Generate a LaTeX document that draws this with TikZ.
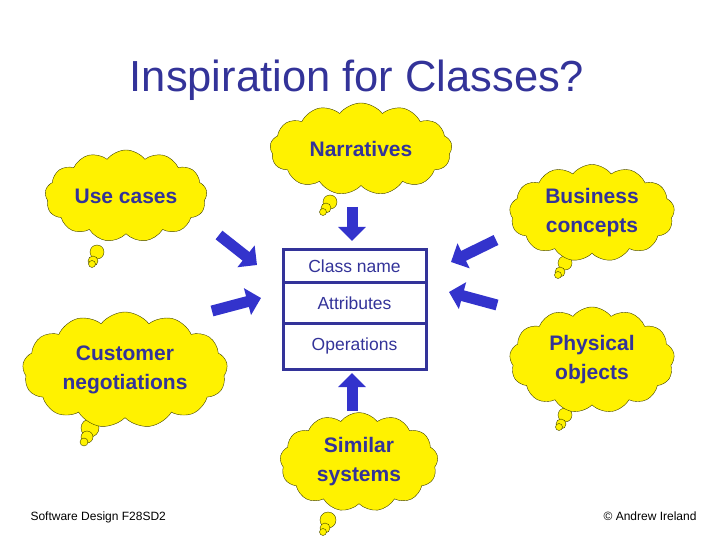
\documentclass[tikz,border=0pt]{standalone}
\usepackage{fontspec}
\setmainfont{Liberation Sans}
\usepackage{tikz}
\usetikzlibrary{shapes.symbols}
\usetikzlibrary{arrows.meta}
\usetikzlibrary{positioning}

\definecolor{inkblue}{RGB}{51,51,153}
\definecolor{arrowblue}{RGB}{51,51,204}
\definecolor{puffline}{RGB}{64,64,0}

\begin{document}
\begin{tikzpicture}[x=1pt,y=-1pt,
  thought/.style={cloud,cloud puffs=13,cloud puff arc=105,cloud ignores aspect,draw=puffline,fill=yellow,thin,inner sep=0pt,text=inkblue,align=center,font=\fontsize{21}{29}\selectfont\bfseries},
  bubble/.style={draw=puffline,fill=yellow,thin},
  bigarrow/.style={draw=arrowblue,line width=11pt,-{Triangle[width=27pt,length=14pt]}},
  part/.style={rectangle,draw=inkblue,line width=3pt,outer sep=0pt,minimum width=143pt,text=inkblue,font=\fontsize{17.5}{20}\selectfont}]

  \useasboundingbox (0,0) rectangle (720,540);

  \node[text=inkblue,font=\fontsize{43.5}{50}\selectfont,anchor=base] (title) at (357,92) {Inspiration for Classes?};

  % little bubbles under each cloud
  \foreach \x/\y/\r in {330/202/7, 326/208/5, 323/212/3.5,
                        97/252/7, 93/261/5, 92/264/3.5,
                        565/263/7, 560/272/5, 558/275/3.5,
                        90/428/9, 87/437/6, 84/442/4,
                        565/415/7, 561/424/5, 559/427/3.5,
                        328/520/8, 325/528/5, 323/532/3.5}
    \draw[bubble] (\x,\y) circle[radius=\r pt];

  % thought clouds
  \node[thought,minimum width=182pt,minimum height=92pt] (narr) at (361,149) {Narratives};
  \node[thought,minimum width=162pt,minimum height=92pt] (usecase) at (126,196) {Use cases};
  \node[thought,minimum width=165pt,minimum height=97pt] (business) at (592,213) {Business\\concepts};
  \node[thought,minimum width=205pt,minimum height=116pt] (customer) at (125,370) {Customer\\negotiations};
  \node[thought,minimum width=165pt,minimum height=106pt] (physical) at (592,360) {Physical\\objects};
  \node[thought,minimum width=158pt,minimum height=99pt] (similar) at (359,462) {Similar\\systems};

  % the class box
  \node[part,minimum height=33pt] (cname) at (354.5,265.8) {Class name};
  \node[part,minimum height=41pt,below=0pt of cname] (cattr) {Attributes};
  \node[part,minimum height=46pt,below=0pt of cattr] (cops) {Operations};

  % block arrows
  \coordinate (narrfrom) at (352,207);
  \coordinate (narrto) at (352,241);
  \coordinate (usefrom) at (219,235);
  \coordinate (useto) at (257,265);
  \coordinate (busfrom) at (496,240);
  \coordinate (busto) at (451,262);
  \coordinate (custfrom) at (212,311);
  \coordinate (custto) at (261,298);
  \coordinate (physfrom) at (497,305);
  \coordinate (physto) at (449,292);
  \coordinate (simfrom) at (352,411);
  \coordinate (simto) at (352,373);

  \draw[bigarrow] (narrfrom) -- (narrto);
  \draw[bigarrow] (usefrom) -- (useto);
  \draw[bigarrow] (busfrom) -- (busto);
  \draw[bigarrow] (custfrom) -- (custto);
  \draw[bigarrow] (physfrom) -- (physto);
  \draw[bigarrow] (simfrom) -- (simto);

  % footer
  \node[font=\fontsize{12}{14}\selectfont,anchor=base west] (course) at (27,520) {Software Design F28SD2};
  \node[font=\fontsize{12}{14}\selectfont,anchor=base east] (author) at (700,520) {\textcopyright\ Andrew Ireland};

\end{tikzpicture}
\end{document}
